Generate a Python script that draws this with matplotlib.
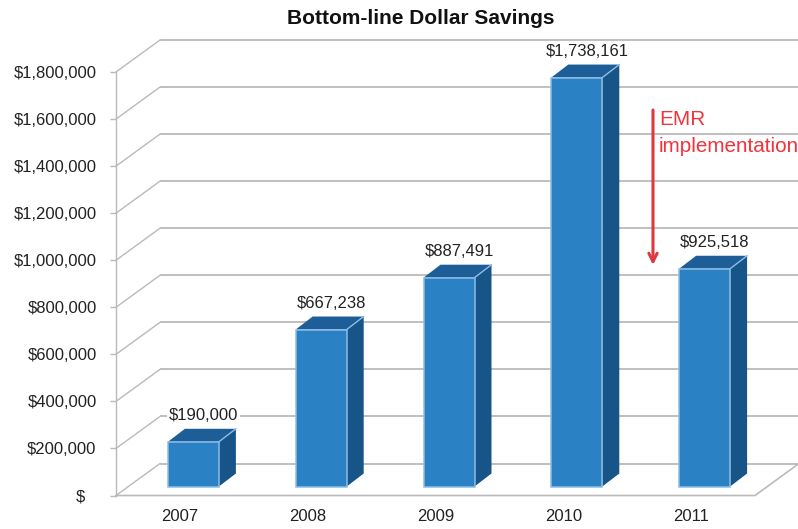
import matplotlib
matplotlib.use("Agg")
import matplotlib.pyplot as plt
from matplotlib.transforms import ScaledTranslation

plt.rcParams['font.family'] = ['Liberation Sans', 'DejaVu Sans']

years = ['2007', '2008', '2009', '2010', '2011']
savings = [190000, 667238, 887491, 1738161, 925518]
value_labels = ['$190,000', '$667,238', '$887,491', '$1,738,161', '$925,518']
y_ticks = [0, 200000, 400000, 600000, 800000, 1000000, 1200000, 1400000, 1600000, 1800000]
y_tick_labels = ['$', '$200,000', '$400,000', '$600,000', '$800,000', '$1,000,000',
                 '$1,200,000', '$1,400,000', '$1,600,000', '$1,800,000']

W, H = 798, 529
AX_L, AX_R, AX_B, AX_T = 116, 755, 495.5, 72

fig = plt.figure(figsize=(W / 100, H / 100), dpi=100, facecolor='white')
ax = fig.add_axes([AX_L / W, 1 - AX_B / H, (AX_R - AX_L) / W, (AX_B - AX_T) / H])
ax.set_xlim(-0.5, 4.5)
ax.set_ylim(0, 1800000)

# Pixel-to-data scales used for the oblique projection
px_x = 5 / (AX_R - AX_L)
px_y = 1800000 / (AX_B - AX_T)

wall_dx, wall_dy = 44 * px_x, 32 * px_y
plane_dx, plane_dy = 13.5 * px_x, 9 * px_y
depth_dx, depth_dy = 17 * px_x, 13 * px_y
bar_w = 51 * px_x

GRID = '#bababa'
x0 = -0.5
x_end = 4.5
x_back_end = x0 + 682 * px_x

# Back wall gridlines and their diagonals along the side wall
for v in y_ticks:
    ax.plot([x0 + wall_dx, x_back_end], [v + wall_dy, v + wall_dy], color=GRID, lw=1.3,
            clip_on=False, zorder=1, solid_capstyle='butt')
    ax.plot([x0, x0 + wall_dx], [v, v + wall_dy], color=GRID, lw=1.0,
            clip_on=False, zorder=1)

# Front edge of the floor and its right-hand diagonal
ax.plot([x0, x_end, x_end + wall_dx], [0, 0, wall_dy], color=GRID, lw=1.2,
        clip_on=False, zorder=1)

# Bars: front face, top face and side face
for i, (val, lab) in enumerate(zip(savings, value_labels)):
    left = i + plane_dx - bar_w / 2
    right = left + bar_w
    base = plane_dy
    top = base + val
    ax.bar(i + plane_dx, val, width=bar_w, bottom=base, color='#2a81c3',
           edgecolor='#8cbde6', linewidth=1.1, zorder=3, clip_on=False)
    ax.fill([right, right + depth_dx, right + depth_dx, right],
            [base, base + depth_dy, top + depth_dy, top],
            color='#175488', lw=0, zorder=2, clip_on=False)
    ax.fill([left, left + depth_dx, right + depth_dx, right],
            [top, top + depth_dy, top + depth_dy, top],
            color='#1e5e98', lw=0, zorder=2, clip_on=False)
    ax.plot([right, right + depth_dx], [top, top + depth_dy], color='#8cbde6', lw=1.0,
            zorder=4, clip_on=False)
    ax.text(i + plane_dx + 10 * px_x, top + 19 * px_y, lab, ha='center', va='bottom',
            fontsize=12, color='#222222', zorder=5, clip_on=False,
            bbox=dict(facecolor='white', edgecolor='none', pad=1.5))

ax.set_xticks(range(len(years)))
ax.set_xticklabels(years, fontsize=12, color='#222222')
ax.set_yticks(y_ticks)
ax.set_yticklabels(y_tick_labels, fontsize=12, color='#222222')
ax.tick_params(axis='x', length=0, pad=10)
ax.tick_params(axis='y', length=4, width=1, color=GRID, pad=10)

# The bare dollar sign at zero sits further left than the other tick labels
zero_label = ax.get_yticklabels()[0]
zero_label.set_transform(zero_label.get_transform()
                         + ScaledTranslation(-0.12, 0, fig.dpi_scale_trans))

for name in ['top', 'right', 'bottom']:
    ax.spines[name].set_visible(False)
ax.spines['left'].set_color(GRID)
ax.spines['left'].set_linewidth(1.0)
ax.patch.set_visible(False)

fig.text(421 / W, 1 - 18 / H, 'Bottom-line Dollar Savings', ha='center', va='center',
         fontsize=15, fontweight='bold', color='#111111')

# Annotation for the EMR rollout
ax.annotate('', xy=(653 / W, 1 - 265 / H), xytext=(653 / W, 1 - 110 / H),
            xycoords='figure fraction', textcoords='figure fraction',
            arrowprops=dict(arrowstyle='->,head_width=0.3,head_length=0.6', color='#dd3a40',
                            lw=2.2, shrinkA=0, shrinkB=0), zorder=6)
fig.text(659 / W, 1 - 120 / H, 'EMR', ha='left', va='center', fontsize=14.9, color='#f2323c')
fig.text(659 / W, 1 - 146 / H, 'implementation', ha='left', va='center', fontsize=14.9,
         color='#f2323c')

fig.savefig('out.png', dpi=100, facecolor='white')
